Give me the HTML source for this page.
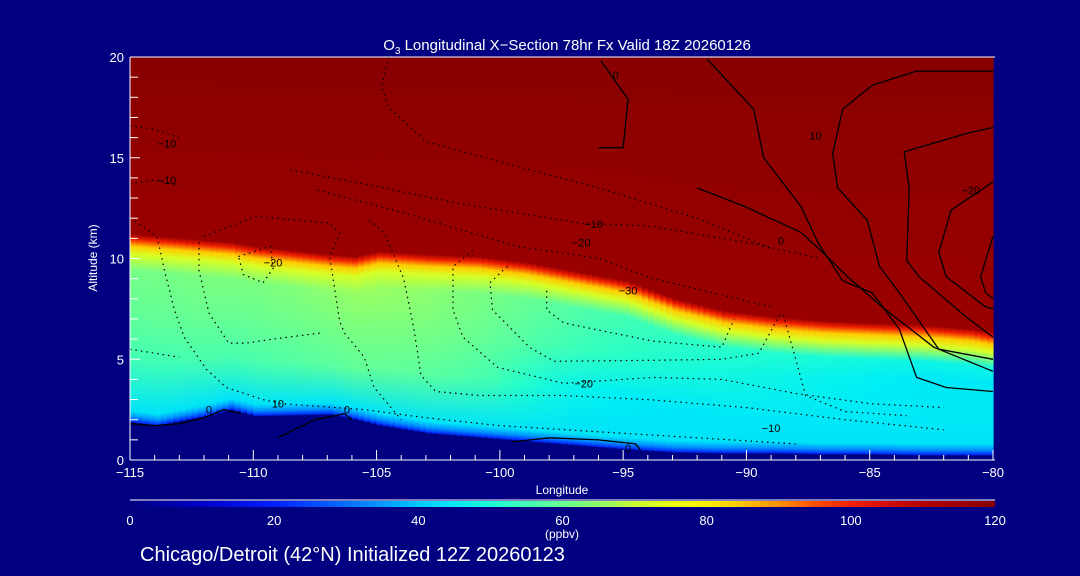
<!DOCTYPE html>
<html><head><meta charset="utf-8"><style>
html,body{margin:0;background:#000080;width:1080px;height:576px;overflow:hidden;position:relative}
svg{display:block}
svg text{font-family:"Liberation Sans",sans-serif;fill:#fff}
</style></head><body>
<svg id="c" width="1080" height="576" style="position:absolute;left:0;top:0">
<rect width="1080" height="576" fill="#000080"/>
<defs id="defs"></defs>
<g id="field"></g>
<g id="contours"></g>
<g id="axes"></g>
</svg>
<script>
// ---- data ----
const lons      = [-115,-114,-112,-111,-110,-107,-106,-105,-103,-101,-99,-97,-95,-93,-91,-89,-87,-85,-83,-81,-80];
const tropoAlt  = [11.2,11.1,10.9,10.8,10.6,10.2,10.1,10.35,10.2,10.1,9.8,9.35,8.9,8.0,7.4,7.1,6.9,6.8,6.7,6.5,6.3];
const terrainAlt= [1.83,1.67,2.15,2.45,2.15,2.23,2.0,1.7,1.3,1.1,0.9,0.7,0.5,0.35,0.3,0.3,0.25,0.25,0.2,0.2,0.2];
const midVal    = [59,59,60,60,60,62,63,63,62,60,57,54,52,50,49,48,47,46,45,45,45];
const cbTicks   = [0,20,40,60,80,100,120];
const xTicks    = [-115,-110,-105,-100,-95,-90,-85,-80];
const yTicks    = [0,5,10,15,20];
const contourSolid = [
 [[-115,1.8],[-114,1.7],[-113,1.8],[-112,2.1],[-111.2,2.5],[-110.5,2.3]],
 [[-109,1.1],[-107.5,2.0],[-106.3,2.3],[-106,2.0]],
 [[-99.5,0.9],[-98,1.1],[-96,1.0],[-94.5,0.8],[-94.3,0.5]],
 [[-95.9,19.8],[-94.8,17.9],[-95.0,15.5],[-96.0,15.5]],
 [[-91.6,19.9],[-89.7,17.4],[-89.3,15.0],[-87.8,12.6],[-87.1,10.8],[-86.1,8.9],[-84.9,8.3],[-83.8,6.5],[-83.1,4.1],[-81.9,3.6],[-80,3.4]],
 [[-92,13.5],[-90.1,12.6],[-87.8,11.3],[-86.9,10.3],[-85.9,9.1],[-84.5,7.6],[-82.4,5.6],[-80,4.4]],
 [[-80,19.3],[-83.1,19.3],[-84.9,18.6],[-86.1,17.4],[-86.5,15.2],[-86.3,13.5],[-85.1,11.9],[-84.6,9.6],[-83.8,8.3],[-82.2,5.5],[-80,5.0]],
 [[-80,16.5],[-81.1,16.2],[-83.6,15.3],[-83.4,13.5],[-83.5,9.9],[-83.0,9.1],[-81.1,7.1],[-80,6.1]],
 [[-80,13.8],[-81.7,12.4],[-82.2,10.3],[-81.9,9.1],[-80.3,7.6],[-80,7.5]],
 [[-80,11.1],[-80.5,9.1],[-80.3,8.3],[-80,8.0]]
];
const contourDotted = [
 [[-115,13.7],[-114,13.9],[-113,13.6]],[[-115,16.6],[-114,16.4],[-113,16.0]],
 [[-104.5,20],[-104.8,18.5],[-104.5,17.5],[-103,15.8],[-100,14.8],[-96,13.5],[-92,12.0],[-89,10.5]],
 [[-108.5,14.4],[-105.5,13.7],[-101.5,12.7],[-96.7,11.75],[-93.8,11.6],[-90,10.8],[-87,10.0]],
 [[-107.4,13.4],[-104,12.3],[-101.5,11.4],[-99.3,10.6],[-96,10.0],[-93.8,9.0],[-91,8.2],[-89,7.6]],
 [[-115,12.0],[-113.9,11.1],[-113.6,9.4],[-113.2,7.45],[-112.8,6.1],[-111.9,4.5],[-111.1,3.6],[-109.6,3.0],[-108.9,2.8],[-105.5,2.5],[-103,2.1],[-100,1.7],[-96,1.4],[-92,1.1],[-88,0.8]],
 [[-112,11.1],[-109.9,12.1],[-106.9,11.75],[-106.5,11.25],[-106.9,10.1],[-106.5,6.9],[-106.3,6.3],[-105.5,5.1],[-105.1,3.6],[-104,2.0]],
 [[-110.6,10.1],[-109.3,10.6],[-109.2,9.5],[-109.6,8.8],[-110.4,9.2],[-110.6,10.1]],
 [[-112.2,10.8],[-112.2,9.4],[-111.8,7.3],[-111,5.8],[-110.3,5.8],[-109.2,6.0],[-107.3,6.3]],
 [[-105.3,11.9],[-104.7,11.3],[-103.9,9.0],[-103.5,6.6],[-103.2,4.2],[-102.6,3.4],[-100.8,3.2],[-97.5,3.2],[-94,3.0],[-90,2.6],[-86,2.0],[-82,1.5]],
 [[-101.1,10.4],[-101.9,9.6],[-101.9,7.45],[-101.5,6.1],[-100.1,4.6],[-97.4,3.8],[-93.8,4.1],[-91,4.0],[-88,3.3],[-85,2.8],[-82,2.6]],
 [[-99.7,9.6],[-100.4,8.8],[-100.3,7.45],[-98.8,5.6],[-97.8,4.9],[-93.8,4.95],[-91,5.0],[-89.5,5.3],[-88.6,7.3]],
 [[-98.1,8.4],[-98.1,7.45],[-97.4,6.8],[-93.8,5.9],[-91,5.6],[-90.5,7.0]],
 [[-115,5.5],[-114,5.3],[-113,5.1]],
 [[-88.5,7.2],[-88,5],[-87.6,3.2],[-86,2.4],[-83.5,2.2]]
];
// ---- scales ----
const X0=130,X1=993,Y0=460,Y1=57;
const x=l=>X0+(l+115)/35*(X1-X0);
const y=a=>Y0-a/20*(Y0-Y1);
const NS="http://www.w3.org/2000/svg";
function mk(t,p,at){const e=document.createElementNS(NS,t);for(const k in at)e.setAttribute(k,at[k]);p.appendChild(e);return e;}
const cstops=[[0,[0,0,128]],[10,[0,0,200]],[20,[0,32,255]],[30,[0,110,255]],[40,[0,200,255]],[46,[0,240,245]],[52,[40,255,200]],[58,[90,255,160]],[64,[130,255,120]],[70,[200,255,50]],[78,[255,255,0]],[88,[255,170,0]],[98,[255,40,0]],[108,[190,0,0]],[120,[136,0,0]]];
function col(v){v=Math.max(0,Math.min(120,v));for(let i=1;i<cstops.length;i++){if(v<=cstops[i][0]){const a=cstops[i-1],b=cstops[i],t=(v-a[0])/(b[0]-a[0]);return `rgb(${a[1].map((c,j)=>Math.round(c+(b[1][j]-c)*t)).join(',')})`;}}return 'rgb(136,0,0)';}
function interp(arr,l){for(let i=1;i<lons.length;i++){if(l<=lons[i]){const t=(l-lons[i-1])/(lons[i]-lons[i-1]);return arr[i-1]+(arr[i]-arr[i-1])*t;}}return arr[arr.length-1];}
const defs=document.getElementById('defs'),field=document.getElementById('field');
mk('rect',field,{x:X0,y:Y1,width:X1-X0,height:Y0-Y1,fill:'#880000'});
for(let l=-115;l<-80;l+=0.25){
 const tr=interp(tropoAlt,l),te=interp(terrainAlt,l),m=interp(midVal,l);
 const id='g'+Math.round((l+115)*4);
 const g=mk('linearGradient',defs,{id:id,gradientUnits:'userSpaceOnUse',x1:0,x2:0,y1:y(20),y2:y(0)});
 const w=Math.max(0,Math.min(1,(m-50)/9));
 const low=45+w*(m-4-45);
 const st=[[20,120],[tr,116],[tr-0.25,100],[tr-0.6,84],[tr-1.0,72],[tr-1.8,m+3],[(tr+te)/2+0.5,m],[Math.max(te+1.2,(tr+te)/2-1.5),low],[te+0.6,44],[te+0.3,34],[te+0.08,22],[te,0],[0,0]];
 st.sort((a,b)=>b[0]-a[0]);
 st.forEach(s=>mk('stop',g,{offset:((20-s[0])/20).toFixed(4),'stop-color':col(s[1])}));
 const r=mk('rect',field,{x:x(l),y:Y1,width:(x(l+0.25)-x(l))+0.6,height:Y0-Y1,fill:`url(#${id})`});
 
 
}
const cg=document.getElementById('contours');
const pts=p=>p.map(q=>x(q[0]).toFixed(1)+','+y(q[1]).toFixed(1)).join(' ');
contourSolid.forEach(c=>{const e=mk('polyline',cg,{points:pts(c),fill:'none',stroke:'#000','stroke-width':1.3});
 });
contourDotted.forEach(c=>{const e=mk('polyline',cg,{points:pts(c),fill:'none',stroke:'#000','stroke-width':1.2,'stroke-dasharray':'1.5 4'});
 });
[['\u221210',-113.5,15.7],['\u221210',-113.5,13.9],['\u221220',-109.2,9.8],['\u221220',-96.7,10.8],['\u221210',-96.2,11.7],['\u221230',-94.8,8.4],['\u221220',-96.6,3.8],['\u221210',-89.0,1.6],['10',-109,2.8],['0',-111.8,2.5],['0',-106.2,2.5],['0',-94.8,0.6],['0',-95.3,19.1],['0',-88.6,10.9],['10',-87.2,16.1],['\u221220',-80.9,13.4]].forEach(t=>{
 const e=mk('text',cg,{x:x(t[1]),y:y(t[2])+4,'font-size':11,'text-anchor':'middle',style:'fill:#000'});e.textContent=t[0];
 });
// axes
const ax=document.getElementById('axes');
mk('line',ax,{x1:X0,y1:Y1,x2:X1+2,y2:Y1,stroke:'#fff'});
mk('line',ax,{x1:X0,y1:Y0,x2:X1+2,y2:Y0,stroke:'#fff'});
mk('line',ax,{x1:X0,y1:Y0,x2:X0,y2:Y1,stroke:'#fff'});
for(let l=-115;l<=-80;l++){const mj=(l%5===0);mk('line',ax,{x1:x(l),y1:Y0,x2:x(l),y2:Y0-(mj?10:5),stroke:'#fff'});}
for(let a=0;a<=20;a++){mk('line',ax,{x1:X0,y1:y(a),x2:X0+(a%5===0?10:8),y2:y(a),stroke:'#fff'});}
xTicks.forEach(v=>{const e=mk('text',ax,{x:x(v),y:477,'font-size':13,'text-anchor':'middle'});e.textContent=String(v).replace('-','\u2212');
 });
yTicks.forEach(v=>{const e=mk('text',ax,{x:124,y:y(v)+5,'font-size':13,'text-anchor':'end'});e.textContent=v;
 });
// colorbar
const cb=mk('linearGradient',defs,{id:'cbg'});
for(let v=0;v<=120;v+=5)mk('stop',cb,{offset:v/120,'stop-color':col(v)});
mk('line',ax,{x1:X0,y1:500,x2:X1+2,y2:500,stroke:'#fff'});
const cbr=mk('rect',ax,{x:X0,y:501,width:X1-X0+2,height:6,fill:'url(#cbg)'});

cbTicks.forEach(v=>{const e=mk('text',ax,{x:X0+v/120*(X1-X0+2),y:525,'font-size':13,'text-anchor':'middle'});e.textContent=v;
 });
</script>
<svg style="position:absolute;left:0;top:0" width="1080" height="576">
<text x="567" y="50" font-size="15" text-anchor="middle">O<tspan font-size="10" dy="4">3</tspan><tspan dy="-4"> Longitudinal X−Section 78hr  Fx Valid 18Z 20260126</tspan></text>
<text transform="translate(97,258) rotate(-90)" font-size="12" text-anchor="middle">Altitude (km)</text>
<text x="562" y="494" font-size="12" text-anchor="middle">Longitude</text>
<text x="562" y="538" font-size="12" text-anchor="middle">(ppbv)</text>
<text x="140" y="561" font-size="20">Chicago/Detroit (42°N) Initialized 12Z 20260123</text>
</svg>
</body></html>
